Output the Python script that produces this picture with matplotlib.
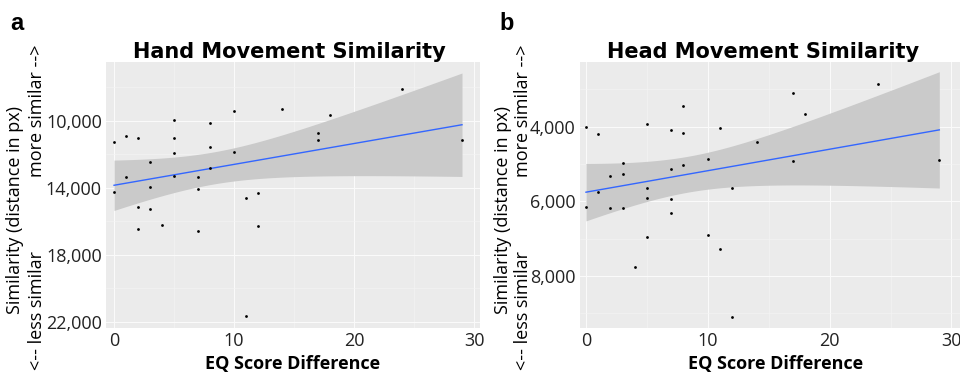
import numpy as np
import matplotlib
matplotlib.use("Agg")
import matplotlib.pyplot as plt

# ---- data ----
hand_eq = [0, 0, 1, 1, 2, 2, 2, 3, 3, 3, 4, 5, 5, 5, 5, 7, 7, 7, 8, 8, 8,
           10, 10, 11, 11, 12, 12, 14, 17, 17, 18, 24, 29]
hand_dist = [11270, 14260, 10880, 13320, 11040, 15130, 16450, 12450, 13960,
             15270, 16190, 9960, 11000, 11890, 13300, 13360, 14040, 16590,
             10140, 11550, 12830, 9390, 11850, 14580, 21620, 14300, 16290,
             9300, 10700, 11130, 9620, 8110, 11150]

head_eq = [0, 0, 1, 1, 2, 2, 3, 3, 3, 4, 5, 5, 5, 5, 7, 7, 7, 7, 8, 8, 8,
           10, 10, 11, 11, 12, 12, 14, 17, 17, 18, 24, 29]
head_dist = [4000, 6140, 4210, 5760, 5310, 6170, 4980, 5270, 6180, 7770,
             3930, 5650, 5900, 6950, 4090, 5130, 5950, 6300, 3460, 4180,
             5030, 4860, 6910, 4040, 7270, 5640, 9100, 4410, 3110, 4930,
             3660, 2860, 4880]

hand_yticks = [10000, 14000, 18000, 22000]
head_yticks = [4000, 6000, 8000]
x_ticks = [0, 10, 20, 30]

T975 = 2.0395  # t quantile, df = 31

W, H = 960, 376


def lm_band(x, y):
    # linear fit + 95% confidence band, like geom_smooth(method="lm")
    x = np.asarray(x, float)
    y = np.asarray(y, float)
    n = len(x)
    b, a = np.polyfit(x, y, 1)
    resid = y - (a + b * x)
    s = np.sqrt((resid ** 2).sum() / (n - 2))
    xs = np.linspace(x.min(), x.max(), 100)
    se = s * np.sqrt(1 / n + (xs - x.mean()) ** 2 / ((x - x.mean()) ** 2).sum())
    fit = a + b * xs
    return xs, fit, fit - T975 * se, fit + T975 * se


def panel(ax, x, y, yticks, xlim, ylim, minor_y):
    ax.set_facecolor("#EBEBEB")
    for sp in ax.spines.values():
        sp.set_visible(False)
    xs, fit, lo, hi = lm_band(x, y)
    ax.fill_between(xs, lo, hi, color="#CACACA", lw=0, zorder=2)
    ax.plot(xs, fit, color="#3366FF", lw=1.0, zorder=3)
    ax.scatter(x, y, s=4, color="black", zorder=4, lw=0)
    ax.set_xlim(*xlim)
    ax.set_ylim(*ylim)
    ax.set_xticks(x_ticks)
    ax.set_yticks(yticks)
    ax.set_yticklabels([f"{v:,}" for v in yticks])
    ax.set_xticks([5, 15, 25], minor=True)
    ax.set_yticks(minor_y, minor=True)
    ax.grid(True, which="major", color="#FAFAFA", lw=0.75, zorder=1)
    ax.grid(True, which="minor", color="#F4F4F4", lw=0.4, zorder=1)
    ax.set_axisbelow(True)
    ax.tick_params(which="both", length=0, labelsize=13, colors="#222222",
                   pad=3)
    for lab in ax.get_xticklabels() + ax.get_yticklabels():
        lab.set_family("Open Sans")


fig = plt.figure(figsize=(W / 100, H / 100), dpi=100)

ax1 = fig.add_axes([106 / W, (H - 328) / H, 374 / W, 266 / H])
panel(ax1, hand_eq, hand_dist, hand_yticks, (-0.67, 30.5), (22360, 6480),
      [8000, 12000, 16000, 20000])

ax2 = fig.add_axes([580 / W, (H - 328) / H, 380 / W, 266 / H])
panel(ax2, head_eq, head_dist, head_yticks, (-0.49, 30.7), (9390, 2270),
      [3000, 5000, 7000, 9000])

lab_font = dict(family="Open Sans", fontsize=13, color="black")

# (title, title centre, xlabel centre, letter, letter x, ylabel x, arrows x)
panels_txt = [
    ("Hand Movement Similarity", 289, 293, "a", 17, 15, 37),
    ("Head Movement Similarity", 763, 776, "b", 507, 503, 523),
]

for title, tcx, xlcx, letter, lx, yx, sx in panels_txt:
    fig.text(tcx / W, (H - 58) / H, title, ha="center", va="baseline",
             fontsize=15, fontweight="bold", family="DejaVu Sans")
    fig.text(xlcx / W, (H - 364) / H, "EQ Score Difference", ha="center",
             va="center", fontweight="bold", **lab_font)
    fig.text(lx / W, (H - 30) / H, letter, ha="center", va="baseline",
             fontsize=17, fontweight="bold", family="Liberation Sans")
    fig.text(yx / W, (H - 210) / H, "Similarity (distance in px)",
             rotation=90, ha="center", va="center", **lab_font)
    fig.text(sx / W, (H - 111) / H, "more similar -->", rotation=90,
             ha="center", va="center", **lab_font)
    fig.text(sx / W, (H - 311) / H, "<-- less similar", rotation=90,
             ha="center", va="center", **lab_font)

fig.savefig("out.png", dpi=100)
